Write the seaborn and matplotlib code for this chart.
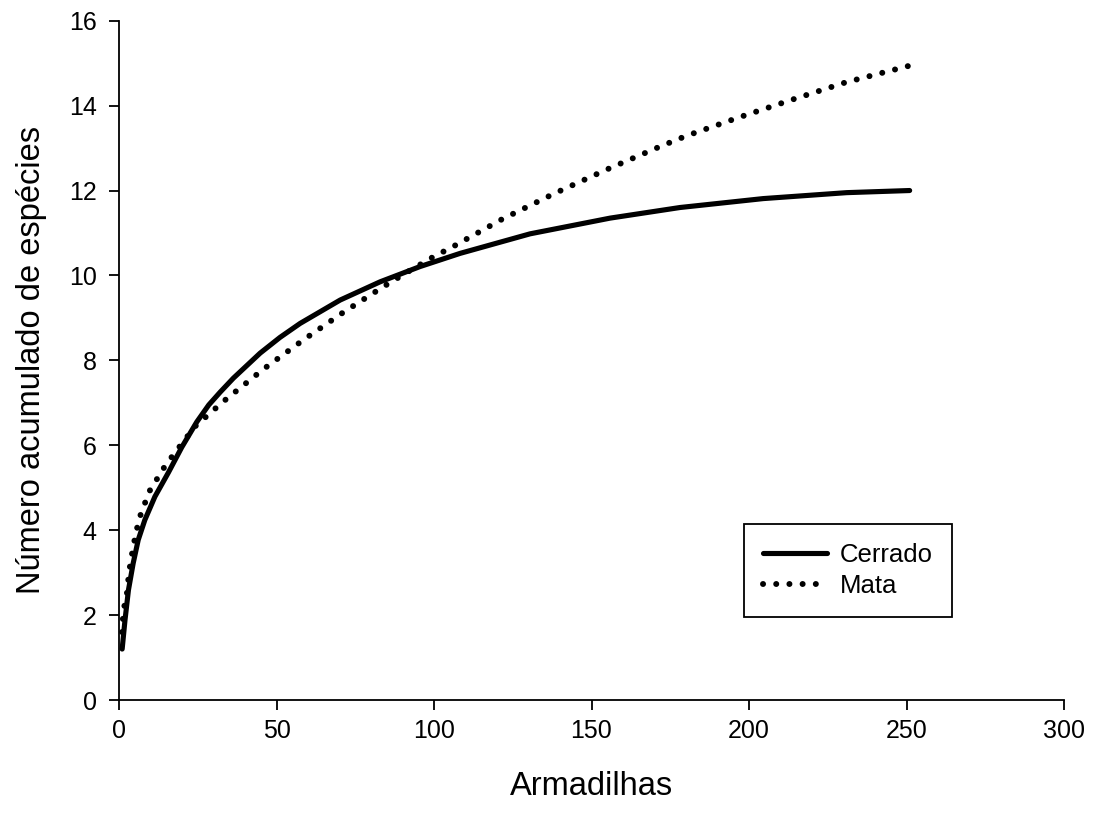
import matplotlib
matplotlib.use("Agg")
import matplotlib.pyplot as plt
import seaborn as sns
import pandas as pd

cerrado_x = [1.0, 1.9, 3.0, 4.5, 6.1, 8.2, 11.4, 15.7, 19.9, 24.7, 28.5, 32.1, 36.3, 44.8, 51.1, 57.5,
             70.2, 82.9, 95.6, 108.3, 130.5, 155.9, 178.1, 204.5, 231.0, 251.0]
cerrado_y = [1.2, 1.88, 2.59, 3.22, 3.77, 4.24, 4.79, 5.36, 5.95, 6.55, 6.95, 7.25, 7.58, 8.17, 8.54, 8.87,
             9.42, 9.85, 10.21, 10.52, 10.98, 11.35, 11.60, 11.81, 11.95, 12.0]

mata_x = [1.0, 1.4, 2.4, 3.2, 4.55, 6.35, 9.6, 14.6, 17.6, 24.1, 33.1, 45.8, 58.5, 71.0, 83.6,
          91.8, 100.3, 105.1, 121.5, 138.2, 155.0, 171.9, 180.2, 197.1, 214.1, 230.8, 252.0]
mata_y = [1.6, 2.12, 2.43, 3.02, 3.63, 4.26, 4.91, 5.51, 5.81, 6.44, 7.03, 7.79, 8.48, 9.12, 9.72,
          10.09, 10.46, 10.64, 11.32, 11.93, 12.50, 13.04, 13.29, 13.73, 14.15, 14.55, 14.96]

series_names = ["Cerrado", "Mata"]
x_label = "Armadilhas"
y_label = "Número acumulado de espécies"

sns.set_style("white")
plt.rcParams["font.family"] = ["Liberation Sans", "DejaVu Sans"]

fig = plt.figure(figsize=(10.94, 8.14), dpi=100)
ax = fig.add_axes([119 / 1094, 114 / 814, 945 / 1094, 679.3 / 814])

df_c = pd.DataFrame({"x": cerrado_x, "y": cerrado_y})
df_m = pd.DataFrame({"x": mata_x, "y": mata_y})

sns.lineplot(data=df_c, x="x", y="y", ax=ax, color="black", linewidth=3.7,
             solid_capstyle="round", solid_joinstyle="round", label=series_names[0])
sns.lineplot(data=df_m, x="x", y="y", ax=ax, color="black", linewidth=4.3,
             linestyle=(0, (0.01, 2.2)), dash_capstyle="round", label=series_names[1])

ax.set_xlim(0, 300)
ax.set_ylim(0, 16)
ax.set_xticks(range(0, 301, 50))
ax.set_yticks(range(0, 17, 2))
ax.tick_params(axis="both", direction="out", length=7, width=1.3, labelsize=18,
               color="black", labelcolor="black", bottom=True, left=True)
ax.tick_params(axis="x", pad=7)
ax.tick_params(axis="y", pad=9)
for s in ["top", "right"]:
    ax.spines[s].set_visible(False)
for s in ["left", "bottom"]:
    ax.spines[s].set_color("black")
    ax.spines[s].set_linewidth(1.3)

ax.set_xlabel(x_label, fontsize=23.5, labelpad=20, color="black")
ax.set_ylabel(y_label, fontsize=23.5, labelpad=16, color="black")

leg = ax.legend(loc="upper left", bbox_to_anchor=(0.661, 0.259), fontsize=18.5,
                frameon=True, fancybox=False, shadow=False, handlelength=2.5,
                borderpad=0.75, labelspacing=0.25, handletextpad=0.5, borderaxespad=0)
leg.get_frame().set_edgecolor("black")
leg.get_frame().set_linewidth(1.3)
leg.get_frame().set_alpha(1)
for t in leg.get_texts():
    t.set_color("black")

fig.savefig("out.png", dpi=100)
